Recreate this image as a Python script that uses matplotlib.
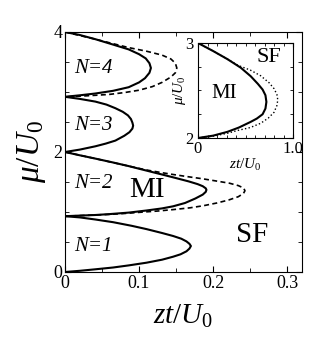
import matplotlib
matplotlib.use("Agg")
import matplotlib.pyplot as plt
from matplotlib.ticker import MultipleLocator

plt.rcParams['font.family'] = ['Liberation Serif', 'DejaVu Serif']
plt.rcParams['mathtext.fontset'] = 'custom'
plt.rcParams['mathtext.rm'] = 'Liberation Serif'
plt.rcParams['mathtext.it'] = 'Liberation Serif:italic'

# lobe boundaries (zt/U0, mu/U0)
n1_x = [0, 0.02, 0.041, 0.065, 0.09, 0.11, 0.131, 0.146, 0.157, 0.164, 0.168, 0.170,
        0.168, 0.164, 0.156, 0.146, 0.131, 0.11, 0.086, 0.065, 0.041, 0.02, 0]
n1_mu = [0.93, 0.91, 0.875, 0.83, 0.77, 0.715, 0.65, 0.60, 0.555, 0.51, 0.47, 0.433,
         0.39, 0.345, 0.295, 0.255, 0.205, 0.155, 0.11, 0.075, 0.045, 0.02, 0]

n2_x = [0, 0.02, 0.041, 0.065, 0.086, 0.11, 0.131, 0.15, 0.167, 0.179, 0.186, 0.190, 0.191,
        0.190, 0.186, 0.176, 0.162, 0.146, 0.131, 0.11, 0.086, 0.06, 0.041, 0.02, 0]
n2_mu = [2.0, 1.945, 1.89, 1.825, 1.765, 1.69, 1.625, 1.565, 1.51, 1.465, 1.43, 1.395, 1.37,
         1.335, 1.29, 1.225, 1.15, 1.095, 1.06, 1.025, 0.99, 0.965, 0.95, 0.94, 0.93]

n2d_x = [0, 0.041, 0.086, 0.11, 0.131, 0.146, 0.165, 0.185, 0.205, 0.222, 0.234, 0.241, 0.243,
         0.241, 0.234, 0.221, 0.205, 0.187, 0.169, 0.146, 0.124, 0.101, 0.08, 0.06, 0.041, 0.02, 0]
n2d_mu = [2.0, 1.89, 1.765, 1.70, 1.655, 1.625, 1.59, 1.555, 1.515, 1.48, 1.44, 1.40, 1.355,
          1.31, 1.255, 1.20, 1.15, 1.105, 1.07, 1.04, 1.015, 0.995, 0.975, 0.96, 0.95, 0.94, 0.93]

n3_x = [0, 0.02, 0.041, 0.056, 0.068, 0.078, 0.085, 0.089, 0.091, 0.092,
        0.091, 0.087, 0.08, 0.068, 0.055, 0.041, 0.02, 0]
n3_mu = [2.92, 2.885, 2.84, 2.79, 2.73, 2.67, 2.61, 2.55, 2.49, 2.44,
         2.39, 2.33, 2.27, 2.19, 2.14, 2.095, 2.04, 2.0]

n4_x = [0, 0.02, 0.041, 0.065, 0.086, 0.1, 0.109, 0.114, 0.116,
        0.114, 0.108, 0.1, 0.086, 0.065, 0.041, 0.02, 0]
n4_mu = [4.0, 3.95, 3.88, 3.79, 3.71, 3.63, 3.56, 3.48, 3.40,
         3.32, 3.23, 3.16, 3.08, 3.02, 2.975, 2.945, 2.92]

n4d_x = [0, 0.041, 0.086, 0.11, 0.131, 0.143, 0.149, 0.151,
         0.149, 0.143, 0.131, 0.118, 0.1, 0.08, 0.06, 0.041, 0.02, 0]
n4d_mu = [4.0, 3.88, 3.74, 3.68, 3.615, 3.55, 3.48, 3.40,
          3.32, 3.25, 3.16, 3.09, 3.03, 2.99, 2.96, 2.945, 2.93, 2.92]

# inset: N=3 lobe
in_x = [0, 0.16, 0.31, 0.45, 0.555, 0.63, 0.68, 0.71, 0.72, 0.71, 0.68, 0.62, 0.555, 0.43, 0.31, 0.16, 0]
in_mu = [3.0, 2.915, 2.83, 2.74, 2.65, 2.57, 2.51, 2.45, 2.38, 2.31, 2.25, 2.205, 2.17, 2.11, 2.065, 2.025, 2.0]
ind_x = [0, 0.16, 0.31, 0.42, 0.55, 0.66, 0.75, 0.80, 0.83, 0.84, 0.83, 0.80, 0.74, 0.66, 0.55, 0.42, 0.31, 0.16, 0]
ind_mu = [3.0, 2.915, 2.83, 2.765, 2.715, 2.655, 2.58, 2.52, 2.46, 2.40, 2.34, 2.27, 2.21, 2.155, 2.11, 2.08, 2.05, 2.02, 2.0]

fig = plt.figure(figsize=(3.17, 3.46), dpi=100)
ax = fig.add_axes([65/317, 74/346, 237/317, 240/346])

ax.plot(n2d_x, n2d_mu, 'k--', lw=1.2, dashes=(3, 2))
ax.plot(n4d_x, n4d_mu, 'k--', lw=1.2, dashes=(3, 2))
for xs, ys in [(n1_x, n1_mu), (n2_x, n2_mu), (n3_x, n3_mu), (n4_x, n4_mu)]:
    ax.plot(xs, ys, 'k-', lw=1.5)

ax.set_xlim(0, 0.32)
ax.set_ylim(0, 4)
ax.xaxis.set_major_locator(MultipleLocator(0.1))
ax.xaxis.set_minor_locator(MultipleLocator(0.05))
ax.yaxis.set_major_locator(MultipleLocator(2))
ax.yaxis.set_minor_locator(MultipleLocator(0.5))
ax.tick_params(which='both', direction='in', top=True, right=True, labelsize=13, pad=2)
ax.tick_params(which='major', length=4)
ax.tick_params(which='minor', length=3)
ax.xaxis.set_major_formatter(plt.FuncFormatter(lambda v, p: '0' if v == 0 else '%.1f' % v))
ax.yaxis.set_major_formatter(plt.FuncFormatter(lambda v, p: '%d' % v))
ax.set_xlabel(r'$zt/U_0$', fontsize=21, labelpad=8)
ax.set_ylabel(r'$\mu/U_0$', fontsize=24, labelpad=4)

for lab, y in [('N=1', 0.43), ('N=2', 1.48), ('N=3', 2.45), ('N=4', 3.39)]:
    ax.text(0.012, y, lab, fontsize=15, style='italic', va='center')
ax.text(0.111, 1.37, 'MI', fontsize=21, ha='center', va='center')
ax.text(0.252, 0.62, 'SF', fontsize=21, ha='center', va='center')

ins = fig.add_axes([198/317, 208/346, 95/317, 95/346])
ins.plot(ind_x, ind_mu, 'k:', lw=1.0)
ins.plot(in_x, in_mu, 'k-', lw=1.5)
ins.set_xlim(0, 1.0)
ins.set_ylim(2, 3)
ins.set_xticks([0, 1.0])
ins.set_xticklabels(['0', '1.0'])
ins.set_yticks([2, 3])
ins.set_yticklabels(['2', '3'])
ins.xaxis.set_minor_locator(MultipleLocator(0.1))
ins.yaxis.set_minor_locator(MultipleLocator(0.25))
ins.tick_params(which='both', direction='in', top=True, right=True, labelsize=12)
ins.tick_params(axis='x', pad=2)
ins.tick_params(axis='y', pad=3)
ins.tick_params(which='major', length=3)
ins.tick_params(which='minor', length=2)
ins.set_xlabel(r'$zt/U_0$', fontsize=11, labelpad=0)
ins.set_ylabel(r'$\mu/U_0$', fontsize=11, labelpad=-2)
ins.text(0.28, 2.47, 'MI', fontsize=15, ha='center', va='center')
ins.text(0.75, 2.85, 'SF', fontsize=16, ha='center', va='center')

fig.savefig('out.png', dpi=100)
